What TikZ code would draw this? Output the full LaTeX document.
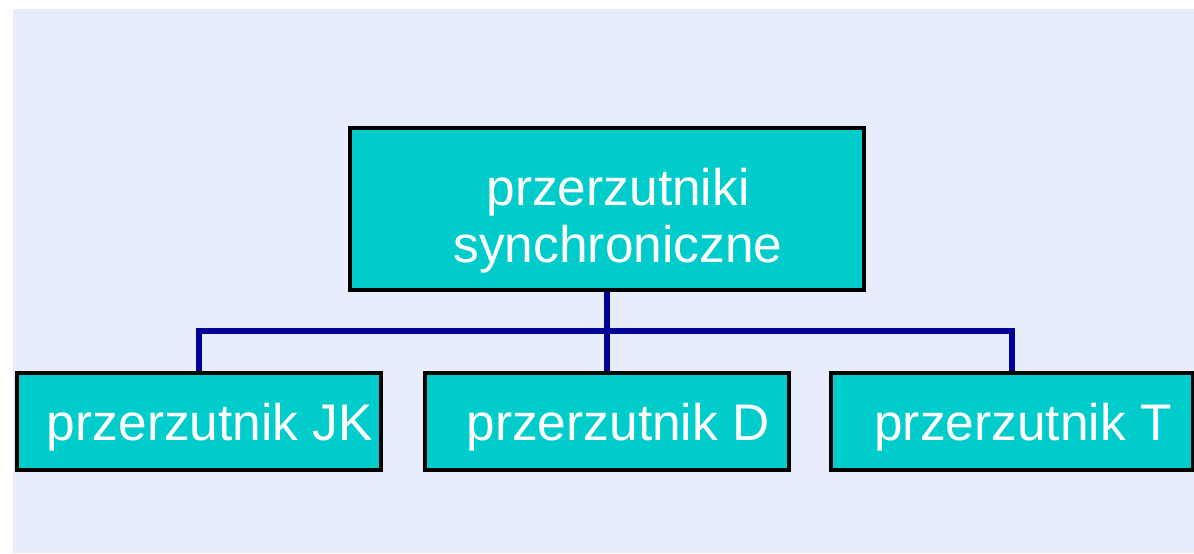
\documentclass[tikz,border=0pt]{standalone}
\usepackage{fontspec}
\setmainfont{Liberation Sans}

\definecolor{bgLavender}{RGB}{232,237,252}
\definecolor{boxTeal}{RGB}{0,204,204}
\definecolor{wireBlue}{RGB}{0,0,153}

\tikzset{every picture/.style={line width=0.75pt}}

\begin{document}
\begin{tikzpicture}[x=0.75pt,y=0.75pt,yscale=-1,xscale=1,
  box/.style={draw=black,line width=2.4pt,fill=boxTeal,inner sep=0pt,minimum width=364*0.75pt,minimum height=97*0.75pt},
  txt/.style={anchor=base,inner sep=0pt,text=white,font=\fontsize{38.6}{44}\selectfont},
  wire/.style={draw=wireBlue,line width=3.8pt}]
%set diagram frame: 1194 x 553
\useasboundingbox (0,0) rectangle (1194,553);
\fill[white] (0,0) rectangle (1194,553);
\fill[bgLavender] (13,9) rectangle (1194,553);

%Boxes
\node[box,minimum width=514*0.75pt,minimum height=162*0.75pt] (top) at (607,209) {};
\node[box] (jk) at (199,421.5) {};
\node[box] (d) at (607,421.5) {};
\node[box,minimum width=362*0.75pt] (t) at (1012,421.5) {};

%Connectors
\coordinate (bus) at (607,331);
\draw[wire] (jk.north) |- (bus) -| (t.north);
\draw[wire,line width=4.6pt] (top.south) -- (d.north);

% Text Nodes
\node[txt] (toptxta) at ([shift={(11,-4)}]top.center) {przerzutniki};
\node[txt] (toptxtb) at ([shift={(11,53)}]top.center) {synchroniczne};
\node[txt] (jktxt) at ([shift={(11,18.5)}]jk.center) {przerzutnik JK};
\node[txt] (dtxt) at ([shift={(11,18.5)}]d.center) {przerzutnik D};
\node[txt] (ttxt) at ([shift={(11,18.5)}]t.center) {przerzutnik T};

\end{tikzpicture}
\end{document}
